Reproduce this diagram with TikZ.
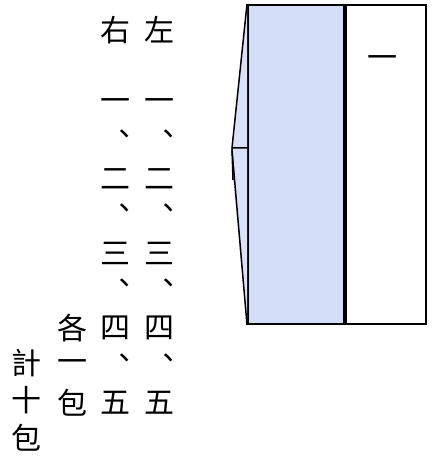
\documentclass[tikz,border=0pt]{standalone}
\usepackage{fontspec}
\newfontfamily\cjk{Noto Sans CJK TC}
\usetikzlibrary{positioning}
\definecolor{bookBlue}{HTML}{D5DEF8}
\definecolor{bookEdge}{HTML}{D9E2FA}

\begin{document}
\begin{tikzpicture}[
    x=1pt, y=-1pt,
    hanzi/.style={inner sep=0pt, font=\cjk\fontsize{30}{36}\selectfont},
    panel/.style={rectangle, draw=black, line width=1.8pt,
                  minimum height=319pt, inner sep=0pt},
  ]
    \useasboundingbox (0,0) rectangle (433,462);

    \node[panel, fill=bookBlue, minimum width=96pt, anchor=north west] (front) at (247,4) {};
    \node[panel, fill=white, minimum width=80pt, right=0pt of front] (back) {};
    \node[hanzi] (vol) at (382,62) {一};

    % spine flap
    \coordinate (tip) at (232,148);
    \coordinate (foot) at (233,180);
    \fill[bookEdge] (front.north west) -- (tip) -- (foot) -- (front.south west) -- cycle;
    \draw[line width=1.5pt] (front.north west) -- (tip) -- (front.west |- tip);
    \draw[line width=1.5pt] (tip) -- (foot);
    \draw[line width=1.5pt] ([yshift=-2pt]tip) -- (front.south west);

    % columns, right to left
    \foreach \ch/\r in {左/0,一/2,︑/3,二/4,︑/5,三/6,︑/7,四/8,︑/9,五/10}{
      \node[hanzi] (l\r) at (159,30+37.3*\r) {\ch};
    }
    \foreach \ch/\r in {右/0,一/2,︑/3,二/4,︑/5,三/6,︑/7,四/8,︑/9,五/10}{
      \node[hanzi] (r\r) at (115,30+37.3*\r) {\ch};
    }
    \foreach \ch/\r in {各/8,一/9,包/10}{
      \node[hanzi] (g\r) at (72,30+37.3*\r) {\ch};
    }
    \foreach \ch/\r in {計/9,十/10,包/11}{
      \node[hanzi] (t\r) at (27,27+37.3*\r) {\ch};
    }
  \end{tikzpicture}
\end{document}
